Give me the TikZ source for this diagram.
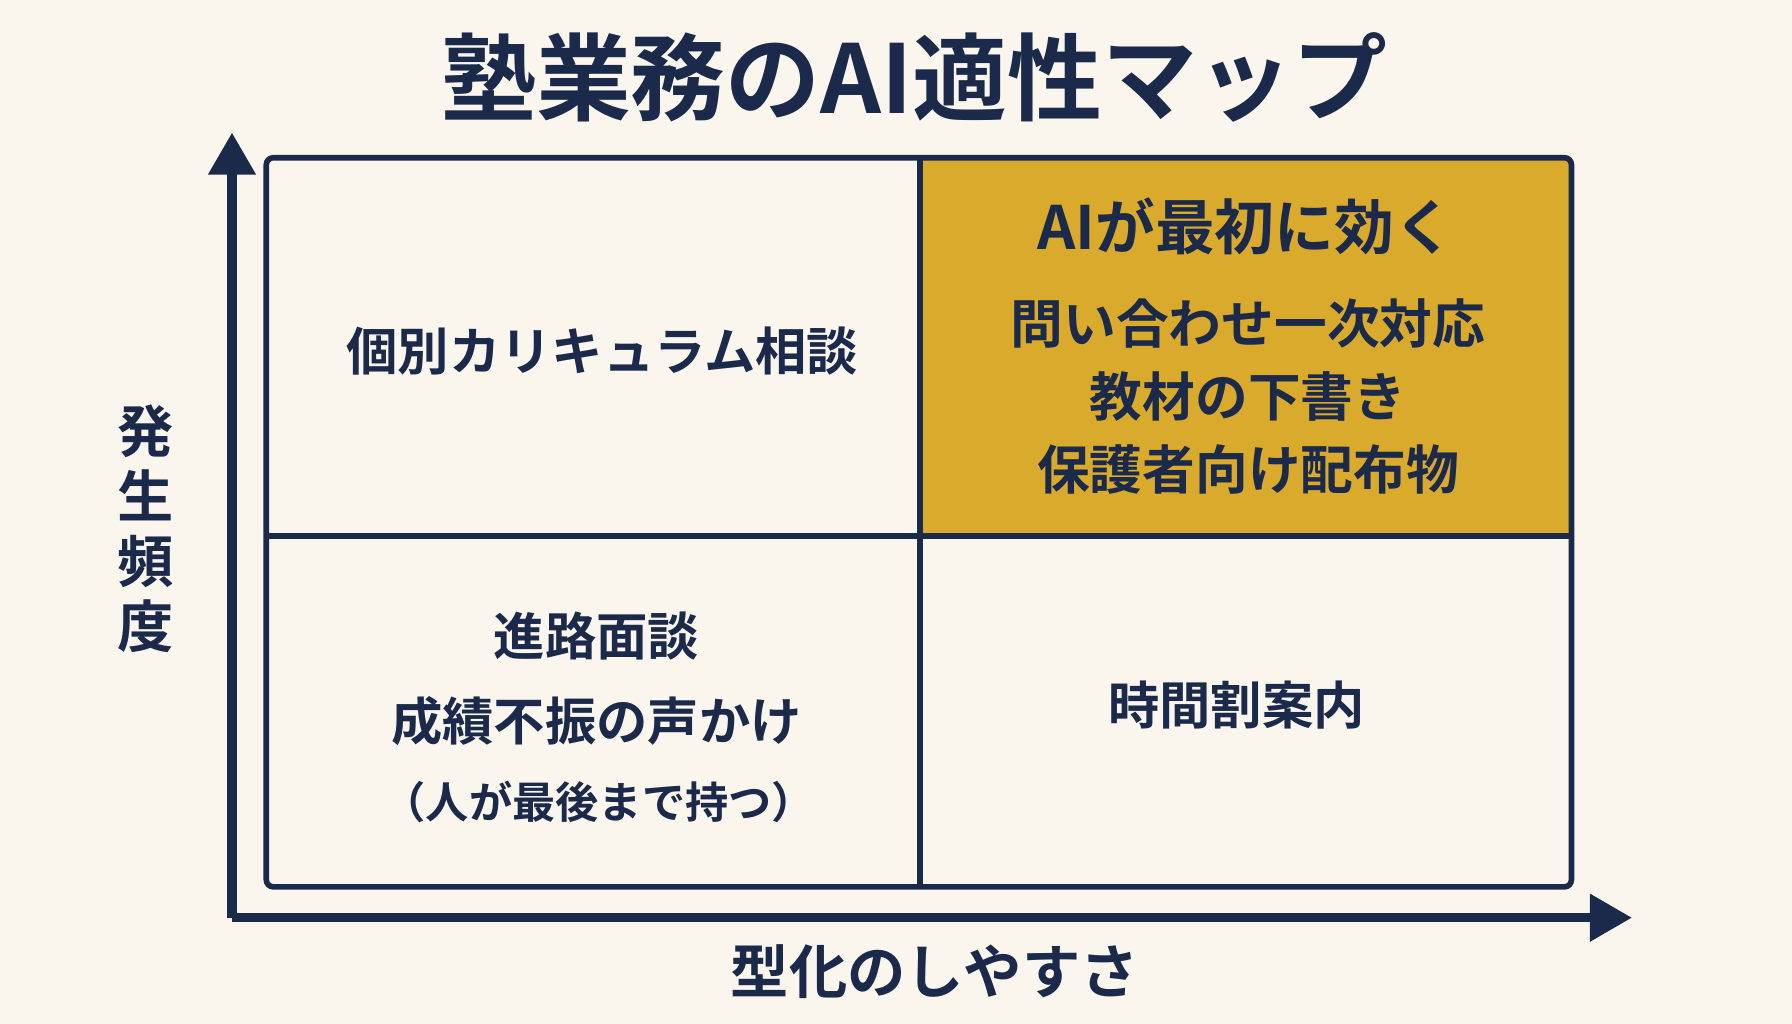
\documentclass[tikz,border=0pt]{standalone}
\usepackage{fontspec}
\setmainfont{Noto Sans CJK JP}[BoldFont={* Bold}]
\usetikzlibrary{arrows.meta}
\definecolor{bgcream}{HTML}{FAF6EE}
\definecolor{navy}{HTML}{1B2A4A}
\definecolor{gold}{HTML}{DAAA2C}
\tikzset{
  cell/.style={draw=navy,line width=1.6pt},
  axis/.style={draw=navy,line width=2.6pt,-{Triangle[length=12pt,width=13pt]}},
  lbl/.style={text=navy,font=\bfseries\fontsize{14.6}{24}\selectfont,align=center},
}
\begin{document}
\begin{tikzpicture}[x=0.011429cm,y=-0.011429cm]
\fill[bgcream] (0,0) rectangle (1568,896);
\useasboundingbox (0,0) rectangle (1568,896);
% quadrants
\fill[gold] (805,138) rectangle (1375,469);
\draw[cell,rounded corners=2pt] (233,138) rectangle (1375,776);
\draw[cell] (805,138) -- (805,776);
\draw[cell] (233,469) -- (1375,469);
% axes
\coordinate (o) at (203,803);
\coordinate (ytop) at (203,116);
\coordinate (xend) at (1428,803);
\draw[axis] (o) -- (ytop);
\draw[axis] (o) -- (xend);
% texts
\node[text=navy,font=\bfseries\fontsize{27}{34}\selectfont] (title) at (800,68) {塾業務のAI適性マップ};
\node[lbl,font=\bfseries\fontsize{16}{18.5}\selectfont] (ylab) at (127,463) {発\\生\\頻\\度};
\node[lbl,font=\bfseries\fontsize{16.6}{24}\selectfont] (xlab) at (818,850) {型化のしやすさ};
\node[lbl,font=\bfseries\fontsize{17}{24}\selectfont] (ai) at (1090,198) {AIが最初に効く};
\node[lbl,font=\bfseries\fontsize{15}{20.8}\selectfont] (q1) at (1092,347) {問い合わせ一次対応\\教材の下書き\\保護者向け配布物};
\node[lbl] (q2) at (527,307) {個別カリキュラム相談};
\node[lbl] (q3) at (522,594) {進路面談\\成績不振の声かけ};
\node[lbl,font=\bfseries\fontsize{12.3}{18}\selectfont] (q3n) at (524,702) {（人が最後まで持つ）};
\node[lbl] (q4) at (1082,617) {時間割案内};
\end{tikzpicture}
\end{document}
